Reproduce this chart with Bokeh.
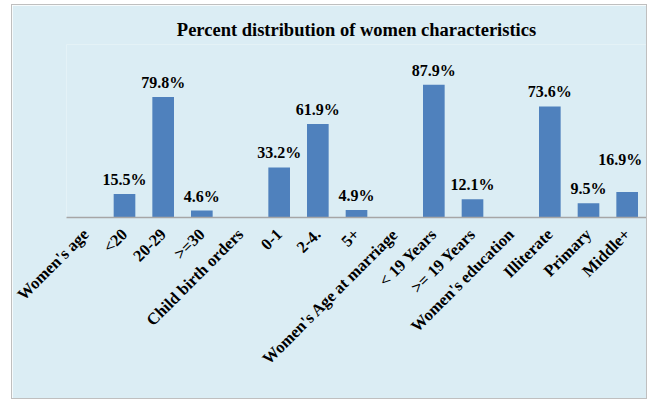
from bokeh.plotting import figure
from bokeh.models import ColumnDataSource, FactorRange, Range1d
from bokeh.core.properties import value
from bokeh.embed import file_html
from bokeh.resources import INLINE
import math

categories = ["Women's age", "<20", "20-29", ">=30",
              "Child birth orders", "0-1", "2-4.", "5+",
              "Women's Age at marriage", "< 19 Years", ">= 19 Years",
              "Women's education", "Illiterate", "Primary", "Middle+"]
values = [None, 15.5, 79.8, 4.6,
          None, 33.2, 61.9, 4.9,
          None, 87.9, 12.1,
          None, 73.6, 9.5, 16.9]

# label nudges (pixels) for data labels, per category (style only)
label_dx = [0, 0, 0, 0, 0, 0, 0, 0, 0, 0, 0, 0, 0, 0, -7]
label_dy = [0, 0, 0, 0, 0, 0, 0, 0, 0, 0, 0, 0, 0, 0, -18]

keep = [i for i, v in enumerate(values) if v is not None]
xs = [categories[i] for i in keep]
ys = [values[i] for i in keep]
labels = ["%.1f%%" % v for v in ys]
dx = [label_dx[i] for i in keep]
dy = [label_dy[i] - 6 for i in keep]
src = ColumnDataSource(dict(x=xs, y=ys, label=labels, dx=dx, dy=dy))

BG = "#DBEDF4"
FONT = "Liberation Serif"

p = figure(x_range=FactorRange(*categories), y_range=Range1d(0, 114.6),
           width=636, height=395, output_backend="svg", toolbar_location=None,
           min_border_left=54, min_border_right=2, min_border_top=39,
           min_border_bottom=183)
p.styles = {"margin-left": "11px", "margin-top": "4px",
            "border": "1px solid #BFBFBF"}
p.background_fill_color = BG
p.border_fill_color = BG
p.outline_line_color = None

p.title.text = "Percent distribution of women characteristics"
p.title.align = "center"
p.title.text_font = FONT
p.title.text_font_size = "18.5px"
p.title.text_font_style = "bold"
p.title.text_color = "#000000"
p.title.offset = 0
p.title.standoff = 10

p.vbar(x="x", top="y", width=0.56, source=src,
       fill_color="#4F81BD", line_color=None)
p.text(x="x", y="y", text="label", source=src, text_align="center",
       text_baseline="bottom", x_offset="dx", y_offset="dy",
       text_font=value(FONT), text_font_size="16px",
       text_font_style="bold", text_color="#000000")

p.yaxis.visible = False
p.xgrid.grid_line_color = None
p.ygrid.grid_line_color = None
p.xaxis.axis_line_color = "#A6A6A6"
p.xaxis.axis_line_width = 1.5
p.xaxis.major_tick_line_color = None
p.xaxis.minor_tick_line_color = None
p.xaxis.major_label_orientation = math.pi / 4
p.xaxis.major_label_text_font = FONT
p.xaxis.major_label_text_font_size = "16.5px"
p.xaxis.major_label_text_font_style = "bold"
p.xaxis.major_label_text_color = "#000000"
p.xaxis.major_label_standoff = 8
p.x_range.range_padding = 0
p.x_range.group_padding = 0
p.x_range.factor_padding = 0

open("out.html", "w").write(file_html(p, INLINE))
